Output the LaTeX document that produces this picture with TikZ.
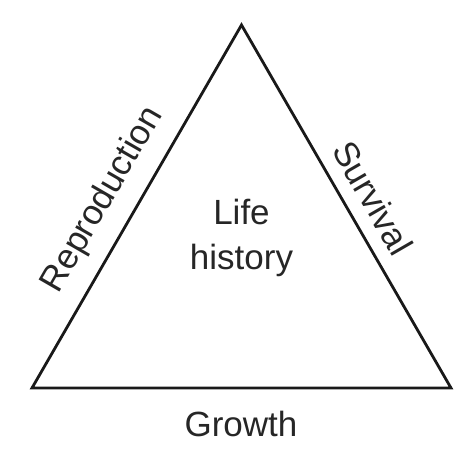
\documentclass[tikz,border=0pt]{standalone}
\usepackage{fontspec}
\setmainfont{Liberation Sans}
\begin{document}
\begin{tikzpicture}[x=1pt,y=1pt,
  edge/.style={line width=2.8pt,line join=miter,draw=black!90},
  lbl/.style={text=black!85,font=\fontsize{35}{45}\selectfont,inner sep=0pt}]
\useasboundingbox (0,0) rectangle (476,457);
\coordinate (top) at (241.5,432);
\coordinate (bl) at (32,69);
\coordinate (br) at (451,69);
\draw[edge] (top) -- (bl) -- (br) -- cycle;
\node[lbl,align=center] (life) at (241.5,219.5) {Life\\history};
\node[lbl,anchor=base] (growth) at (241,20) {Growth};
\node[lbl,rotate=60] (repro) at (103,257) {Reproduction};
\node[lbl,rotate=-60] (surv) at (373,259) {Survival};
\end{tikzpicture}
\end{document}
